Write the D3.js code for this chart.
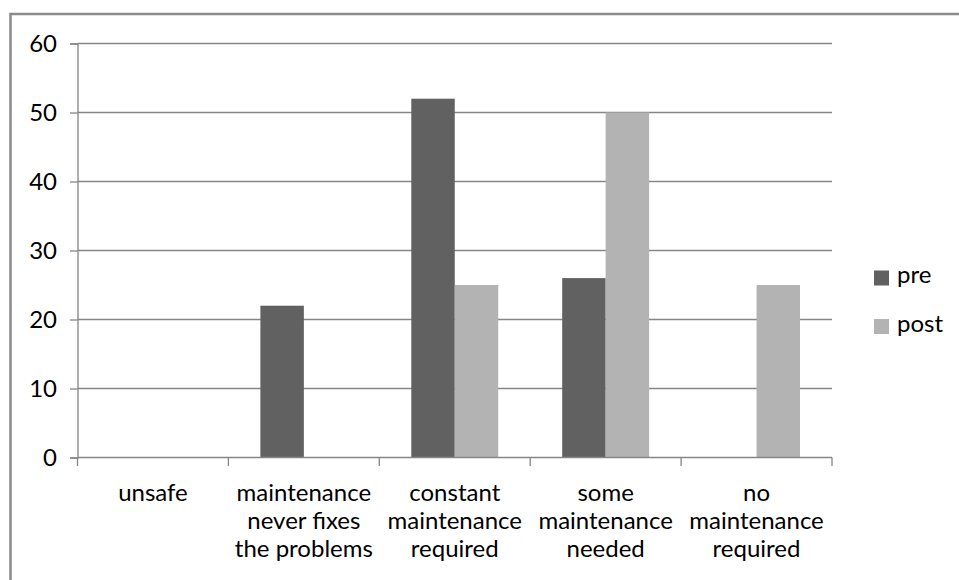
<!DOCTYPE html>
<html>
<head>
<meta charset="utf-8">
<script src="https://cdn.jsdelivr.net/npm/d3@7"></script>
<style>
  html, body { margin: 0; padding: 0; background: #fff; }
  svg { display: block; }
  text { font-family: Lato, "Open Sans", sans-serif; fill: #000; }
</style>
</head>
<body>
<svg id="chart" width="959" height="580"></svg>
<script>
const categories = [
  ["unsafe"],
  ["maintenance", "never fixes", "the problems"],
  ["constant", "maintenance", "required"],
  ["some", "maintenance", "needed"],
  ["no", "maintenance", "required"]
];
const seriesNames = ["pre", "post"];
const preValues = [0, 22, 52, 26, 0];
const postValues = [0, 0, 25, 50, 25];
const yTicks = [0, 10, 20, 30, 40, 50, 60];
const colors = ["#616161", "#b3b3b3"];

(function () {
const svg = d3.select("#chart");
const fontSize = 24;
const gridColor = "#868686";

// outer frame
svg.append("rect")
  .attr("x", 10.5).attr("y", 14)
  .attr("width", 1000).attr("height", 700)
  .attr("fill", "none").attr("stroke", "#8a8a8a").attr("stroke-width", 2.5);

const pL = 77.5, pR = 832, pT = 43.5, pB = 457.5;

const catIdx = categories.map((d, i) => i);
const x0 = d3.scaleBand().domain(catIdx).range([pL, pR]).paddingInner(0).paddingOuter(0);
const x1 = d3.scaleBand().domain(seriesNames).range([0, x0.bandwidth()]).paddingInner(0).paddingOuter(0.736);
const y = d3.scaleLinear().domain([0, 60]).range([pB, pT]);

// gridlines
svg.append("g").selectAll("line").data(yTicks.filter(t => t > 0)).join("line")
  .attr("x1", pL).attr("x2", pR)
  .attr("y1", d => y(d)).attr("y2", d => y(d))
  .attr("stroke", gridColor).attr("stroke-width", 1.3);

// bars
const data = catIdx.map(i => ({ i, vals: [preValues[i], postValues[i]] }));
const groups = svg.append("g").selectAll("g").data(data).join("g")
  .attr("transform", d => `translate(${x0(d.i)},0)`);
groups.selectAll("rect").data(d => d.vals.map((v, k) => ({ key: seriesNames[k], v, k })).filter(e => e.v > 0)).join("rect")
  .attr("x", d => x1(d.key))
  .attr("width", x1.bandwidth())
  .attr("y", d => y(d.v))
  .attr("height", d => y(0) - y(d.v))
  .attr("fill", d => colors[d.k]);

// y axis
const yAxis = d3.axisLeft(y).tickValues(yTicks).tickSize(7.5).tickPadding(13).tickFormat(d3.format("d"));
const yg = svg.append("g").attr("transform", `translate(${pL},0)`).call(yAxis);
yg.select(".domain").attr("stroke", gridColor).attr("stroke-width", 1.3);
yg.selectAll(".tick line").attr("stroke", gridColor).attr("stroke-width", 1.3);
yg.selectAll(".tick text").attr("font-size", fontSize).attr("font-family", "Lato").attr("fill", "#000").attr("dy", "0.34em");

// x axis
const xAxis = d3.axisBottom(x0).tickSize(0).tickFormat("");
const xg = svg.append("g").attr("transform", `translate(0,${pB})`).call(xAxis);
xg.select(".domain").remove();
xg.append("line").attr("x1", pL).attr("x2", pR).attr("y1", 0).attr("y2", 0)
  .attr("stroke", gridColor).attr("stroke-width", 1.3);
const boundaries = catIdx.map(i => x0(i)).concat([x0(catIdx[catIdx.length - 1]) + x0.bandwidth()]);
xg.selectAll("line.b").data(boundaries).join("line").attr("class", "b")
  .attr("x1", d => d).attr("x2", d => d).attr("y1", 0).attr("y2", 8.5)
  .attr("stroke", gridColor).attr("stroke-width", 1.3);

// category labels
const lab = svg.append("g").selectAll("text").data(catIdx).join("text")
  .attr("text-anchor", "middle").attr("font-size", fontSize)
  .attr("x", d => x0(d) + x0.bandwidth() / 2)
  .attr("y", 500.5);
lab.selectAll("tspan").data(d => categories[d]).join("tspan")
  .attr("x", function() { return this.parentNode.getAttribute("x"); })
  .attr("dy", (d, k) => k === 0 ? 0 : 28.3)
  .text(d => d);

// legend
const lg = svg.append("g").selectAll("g").data(seriesNames).join("g")
  .attr("transform", (d, k) => `translate(874,${270.5 + k * 48.5})`);
lg.append("rect").attr("width", 15).attr("height", 15).attr("fill", (d, k) => colors[k]);
lg.append("text").attr("x", 23).attr("y", 12.5).attr("font-size", fontSize).text(d => d);
})();
</script>
</body>
</html>
